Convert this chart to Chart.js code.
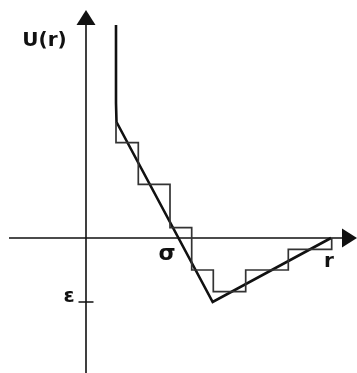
<!DOCTYPE html>
<html>
<head>
<meta charset="utf-8">
<script src="https://cdn.jsdelivr.net/npm/chart.js@4/dist/chart.umd.min.js"></script>
<style>
  html, body { margin: 0; padding: 0; background: #fff; }
  #chart { display: block; }
</style>
</head>
<body>
<canvas id="chart" width="357" height="373"></canvas>
<script>
// potential curve U(r): hard wall, linear drop to the well, linear rise back to 0
const potentialR = [3.0, 3.0, 3.05, 12.67, 24.5];
const potentialU = [21.3, 13.5, 11.6, -6.4, 0];

// staircase approximation: step edges and the level on each step
const stepEdges = [3.0, 5.23, 8.4, 10.57, 12.73, 15.97, 20.23, 24.57];
const stepLevels = [9.53, 5.37, 1.03, -3.2, -5.37, -3.2, -1.13];
const stepStart = 11.6;

// axis marks and labels
const sigmaR = 8.1;
const epsilonU = -6.4;
const tickLabels = { u: 'U(r)', r: 'r', sigma: 'σ', epsilon: 'ε' };

// build point lists from the arrays above
const potentialData = potentialR.map((r, i) => ({ x: r, y: potentialU[i] }));
const stepData = [{ x: stepEdges[0], y: stepStart }];
stepLevels.forEach((lvl, i) => {
  stepData.push({ x: stepEdges[i], y: lvl });
  stepData.push({ x: stepEdges[i + 1], y: lvl });
});
stepData.push({ x: stepEdges[stepEdges.length - 1], y: 0 });

const FONT = '"DejaVu Sans", Verdana, sans-serif';

// draws the two axes with arrows, the epsilon tick and the labels
const axesPlugin = {
  id: 'axes',
  beforeDatasetsDraw(chart) {
    const { ctx } = chart;
    const xs = chart.scales.x, ys = chart.scales.y;
    const x0 = xs.getPixelForValue(0), y0 = ys.getPixelForValue(0);
    const xStart = xs.getPixelForValue(-7.7), xEnd = xs.getPixelForValue(27.1);
    const yTop = ys.getPixelForValue(22.8), yBottom = ys.getPixelForValue(-13.5);
    const arrowLen = 15, arrowHalf = 9.5;

    ctx.save();
    ctx.strokeStyle = '#111';
    ctx.fillStyle = '#111';
    ctx.lineWidth = 1.6;

    ctx.beginPath();
    ctx.moveTo(xStart, y0);
    ctx.lineTo(xEnd - arrowLen, y0);
    ctx.moveTo(x0, yBottom);
    ctx.lineTo(x0, yTop + arrowLen);
    // epsilon tick
    const ye = ys.getPixelForValue(epsilonU);
    ctx.moveTo(x0 - 7.5, ye);
    ctx.lineTo(x0 + 7.5, ye);
    ctx.stroke();

    // arrow heads
    ctx.beginPath();
    ctx.moveTo(xEnd, y0);
    ctx.lineTo(xEnd - arrowLen, y0 - arrowHalf);
    ctx.lineTo(xEnd - arrowLen, y0 + arrowHalf);
    ctx.closePath();
    ctx.fill();
    ctx.beginPath();
    ctx.moveTo(x0, yTop);
    ctx.lineTo(x0 - arrowHalf, yTop + arrowLen);
    ctx.lineTo(x0 + arrowHalf, yTop + arrowLen);
    ctx.closePath();
    ctx.fill();

    ctx.textAlign = 'center';
    ctx.textBaseline = 'alphabetic';
    ctx.font = 'bold 20px ' + FONT;
    ctx.fillText(tickLabels.u, xs.getPixelForValue(-4.15), ys.getPixelForValue(19.2));
    ctx.font = 'bold 22px ' + FONT;
    ctx.fillText(tickLabels.sigma, xs.getPixelForValue(sigmaR), ys.getPixelForValue(-2.2));
    ctx.font = 'bold 20px ' + FONT;
    ctx.fillText(tickLabels.r, xs.getPixelForValue(24.3), ys.getPixelForValue(-2.87));
    ctx.fillText(tickLabels.epsilon, xs.getPixelForValue(-1.7), ye);
    ctx.restore();
  }
};

new Chart(document.getElementById('chart'), {
  type: 'line',
  data: {
    datasets: [
      {
        label: 'staircase',
        data: stepData,
        borderColor: '#333',
        borderWidth: 1.7,
        pointRadius: 0,
        fill: false
      },
      {
        label: 'U(r)',
        data: potentialData,
        borderColor: '#111',
        borderWidth: 2.6,
        pointRadius: 0,
        fill: false
      }
    ]
  },
  options: {
    responsive: false,
    animation: false,
    events: [],
    layout: { padding: 0 },
    plugins: { legend: { display: false }, tooltip: { enabled: false } },
    scales: {
      x: { type: 'linear', min: -8.6, max: 27.1, display: false },
      y: { type: 'linear', min: -13.5, max: 23.8, display: false }
    }
  },
  plugins: [axesPlugin]
});
</script>
</body>
</html>
